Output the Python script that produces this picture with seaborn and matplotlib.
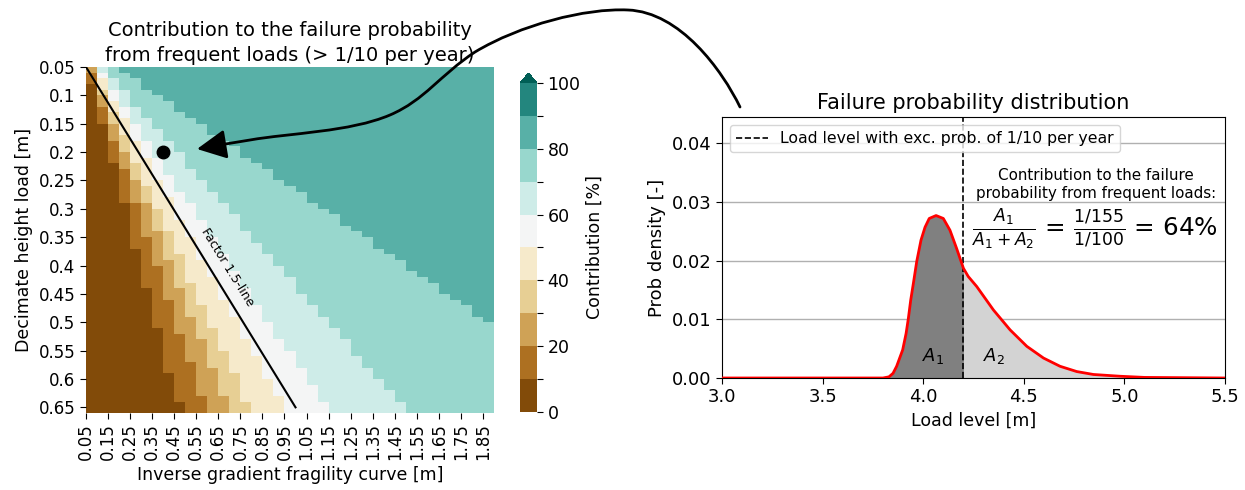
import numpy as np
import pandas as pd
import matplotlib
matplotlib.use("Agg")
import matplotlib.pyplot as plt
from matplotlib.colors import ListedColormap
from matplotlib.patches import FancyArrowPatch
from matplotlib.path import Path
import seaborn as sns

plt.rcParams['font.family'] = ['DejaVu Sans']

# ---------------- heatmap data ----------------
decimate_height = np.round(np.arange(0.05, 0.655, 0.01), 2)      # 61 rows
inverse_gradient = np.round(np.arange(0.05, 1.855, 0.05), 2)     # 37 columns
x_tick_labels = ['0.05', '0.15', '0.25', '0.35', '0.45', '0.55', '0.65', '0.75', '0.85', '0.95',
                 '1.05', '1.15', '1.25', '1.35', '1.45', '1.55', '1.65', '1.75', '1.85']
y_tick_labels = ['0.05', '0.1', '0.15', '0.2', '0.25', '0.3', '0.35', '0.4', '0.45', '0.5',
                 '0.55', '0.6', '0.65']
cbar_tick_labels = ['0', '', '20', '', '40', '', '60', '', '80', '', '100']

# first column (per row) where contribution reaches 10 %, 20 %, ... 80 %
edge_10 = [0]*3 + [1]*7 + [2]*7 + [3]*7 + [4]*8 + [5]*7 + [6]*7 + [7]*8 + [8]*5 + [9]*2
edge_20 = [0] + [1]*6 + [2]*6 + [3]*5 + [4]*6 + [5]*6 + [6]*5 + [7]*6 + [8]*6 + [9]*5 + [10]*6 + [11]*3
edge_30 = [1]*5 + [2]*5 + [3]*5 + [4]*5 + [5]*4 + [6]*5 + [7]*5 + [8]*5 + [9]*5 + [10]*4 + [11]*5 + [12]*5 + [13]*3
edge_40 = [1]*4 + [2]*4 + [3]*4 + [4]*5 + [5]*4 + [6]*4 + [7]*4 + [8]*4 + [9]*5 + [10]*4 + [11]*4 + [12]*4 + [13]*4 + [14]*5 + [15]*2
edge_50 = [1]*2 + [2]*4 + [3]*3 + [4]*4 + [5]*3 + [6]*4 + [7]*3 + [8]*4 + [9]*3 + [10]*4 + [11]*3 + [12]*4 + [13]*3 + [14]*4 + [15]*3 + [16]*4 + [17]*3 + [18]*3
edge_60 = [1] + [2]*3 + [3]*3 + [4]*3 + [5]*3 + [6]*3 + [7]*3 + [8]*3 + [9]*2 + [10]*3 + [11]*3 + [12]*3 + [13]*3 + [14]*3 + [15]*3 + [16]*3 + [17]*3 + [18]*2 + [19]*3 + [20]*3 + [21]*3 + [22]*2
edge_70 = [2]*2 + [3]*2 + [4]*3 + [5]*2 + [6]*2 + [7]*2 + [8]*2 + [9]*3 + [10]*2 + [11]*2 + [12]*2 + [13]*2 + [14]*3 + [15]*2 + [16]*2 + [17]*2 + [18]*2 + [19]*3 + [20]*2 + [21]*2 + [22]*2 + [23]*2 + [24]*3 + [25]*2 + [26]*2 + [27]*2 + [28]*2 + [29]*2
edge_80 = [3, 4, 5, 5, 6, 7, 8, 8, 9, 10, 11, 11, 12, 13, 14, 14, 15, 16, 17, 17, 18, 19, 20, 20,
           21, 22, 23, 23, 24, 25, 26, 26, 27, 28, 29, 29, 30, 31, 32, 32, 33, 34, 35, 35, 36] + [37]*16

factor_line_x = [0.05, 1.0]
factor_line_y = [0.05, 0.65]
dot_x, dot_y = 0.40, 0.20

# ---------------- distribution data ----------------
load_level = [3.0, 3.5, 3.80, 3.83, 3.85, 3.868, 3.898, 3.915, 3.926, 3.938, 3.951, 3.968, 3.989,
              4.009, 4.030, 4.064, 4.100, 4.133, 4.166, 4.200, 4.224, 4.266, 4.349, 4.432, 4.515,
              4.598, 4.680, 4.763, 4.846, 4.978, 5.10, 5.5]
prob_density = [0.0, 0.0, 0.0, 0.0002, 0.0008, 0.0020, 0.0048, 0.0076, 0.0101, 0.0133, 0.0161,
                0.0199, 0.0235, 0.0257, 0.0272, 0.0277, 0.0272, 0.0252, 0.0221, 0.0187, 0.0173,
                0.0156, 0.0116, 0.0082, 0.0054, 0.0034, 0.0020, 0.0011, 0.0006, 0.0003, 0.0001, 0.0]
threshold_load = 4.2

# ---------------- build figure ----------------
W, H = 1245, 490
fig = plt.figure(figsize=(W / 100, H / 100), dpi=100)


def box(x0, y0, x1, y1):
    return [x0 / W, 1 - y1 / H, (x1 - x0) / W, (y1 - y0) / H]


ax = fig.add_axes(box(86, 67, 494, 413))
cax = fig.add_axes(box(520, 73, 537, 412))

edges = [edge_10, edge_20, edge_30, edge_40, edge_50, edge_60, edge_70, edge_80]
col_idx = np.arange(len(inverse_gradient))
bins = np.zeros((len(decimate_height), len(inverse_gradient)), dtype=int)
for e in edges:
    bins += (col_idx[None, :] >= np.array(e)[:, None]).astype(int)
contribution = bins * 10 + 5
df = pd.DataFrame(contribution, index=decimate_height, columns=inverse_gradient)

pal = sns.color_palette("BrBG", 11)
cmap = ListedColormap(pal[:10])
cmap.set_over(pal[10])

sns.heatmap(df, ax=ax, cmap=cmap, vmin=0, vmax=100, cbar_ax=cax,
            cbar_kws={'extend': 'max', 'ticks': np.arange(0, 101, 10), 'extendfrac': 0.03},
            xticklabels=False, yticklabels=False)
ax.set_xticks(np.arange(0, len(inverse_gradient), 2))
ax.set_xticklabels(x_tick_labels, rotation=90, fontsize=12)
ax.set_yticks(np.arange(0, len(decimate_height), 5))
ax.set_yticklabels(y_tick_labels, rotation=0, fontsize=12)
ax.tick_params(length=4)
ax.set_xlabel('Inverse gradient fragility curve [m]', fontsize=12.5)
ax.set_ylabel('Decimate height load [m]', fontsize=12.5)
ax.set_title('Contribution to the failure probability\nfrom frequent loads (> 1/10 per year)',
             fontsize=14, pad=4, linespacing=1.4)

cbar = ax.collections[0].colorbar
cbar.set_ticklabels(cbar_tick_labels)
cbar.ax.tick_params(labelsize=12.5, length=4)
cbar.set_label('Contribution [%]', fontsize=12.5)


def to_cell(xv, yv):
    return (np.array(xv) - 0.05) / 0.05, (np.array(yv) - 0.05) / 0.01


fx, fy = to_cell(factor_line_x, factor_line_y)
ax.plot(fx, fy, color='black', lw=1.5)
ax.text(12.8, 35.3, 'Factor 1.5-line', rotation=-58.3, rotation_mode='anchor',
        ha='center', va='center', fontsize=9)
dx, dy = to_cell(dot_x, dot_y)
ax.plot(dx, dy, 'o', color='black', ms=9)

# ---------------- right panel ----------------
ax2 = fig.add_axes(box(722, 117, 1225, 378))
ll = np.array(load_level)
pdv = np.array(prob_density)
ax2.fill_between(ll, pdv, where=ll <= threshold_load, color='#808080', lw=0, zorder=2)
ax2.fill_between(ll, pdv, where=ll >= threshold_load, color='#d3d3d3', lw=0, zorder=2)
sns.lineplot(x=load_level, y=prob_density, ax=ax2, color='red', lw=2, sort=False,
             estimator=None, zorder=5)
ax2.axvline(threshold_load, color='black', ls='--', lw=1.2, zorder=4,
            label='Load level with exc. prob. of 1/10 per year')
ax2.set_xlim(3.0, 5.5)
ax2.set_ylim(0, 0.0445)
ax2.set_yticks([0.0, 0.01, 0.02, 0.03, 0.04])
ax2.set_yticklabels(['0.00', '0.01', '0.02', '0.03', '0.04'])
ax2.set_xticks([3.0, 3.5, 4.0, 4.5, 5.0, 5.5])
ax2.set_xticklabels(['3.0', '3.5', '4.0', '4.5', '5.0', '5.5'])
ax2.tick_params(labelsize=13, length=4)
ax2.grid(axis='y', color='#b0b0b0', lw=1)
ax2.set_axisbelow(True)
ax2.set_xlabel('Load level [m]', fontsize=12.5)
ax2.set_ylabel('Prob density [-]', fontsize=13)
ax2.set_title('Failure probability distribution', fontsize=15, pad=6)
ax2.legend(loc='upper left', fontsize=11.3)
ax2.text(4.05, 0.0037, r'$A_1$', ha='center', va='center', fontsize=13)
ax2.text(4.35, 0.0037, r'$A_2$', ha='center', va='center', fontsize=13)
ax2.text(4.86, 0.0330, 'Contribution to the failure\nprobability from frequent loads:',
         ha='center', va='center', fontsize=10.9, linespacing=1.2)
ax2.text(4.855, 0.0253, r'$\frac{A_1}{A_1+A_2}$ = $\frac{1/155}{1/100}$ = 64%',
         ha='center', va='center', fontsize=17.7)

# ---------------- connecting arrow ----------------
pts = [(740, 107), (722, 70), (680, 12), (628, 10),
       (585, 8), (520, 25), (475, 52),
       (440, 75), (425, 100), (390, 115),
       (350, 132), (290, 133), (250, 140),
       (230, 143), (215, 146), (197, 149)]
codes = [Path.MOVETO] + [Path.CURVE4] * 15
verts = [(x / W, 1 - y / H) for x, y in pts]
arrow = FancyArrowPatch(path=Path(verts, codes), transform=fig.transFigure,
                        arrowstyle='-|>,head_length=0.9,head_width=0.45',
                        mutation_scale=20, lw=2, color='black')
fig.add_artist(arrow)

fig.savefig('out.png', dpi=100)
